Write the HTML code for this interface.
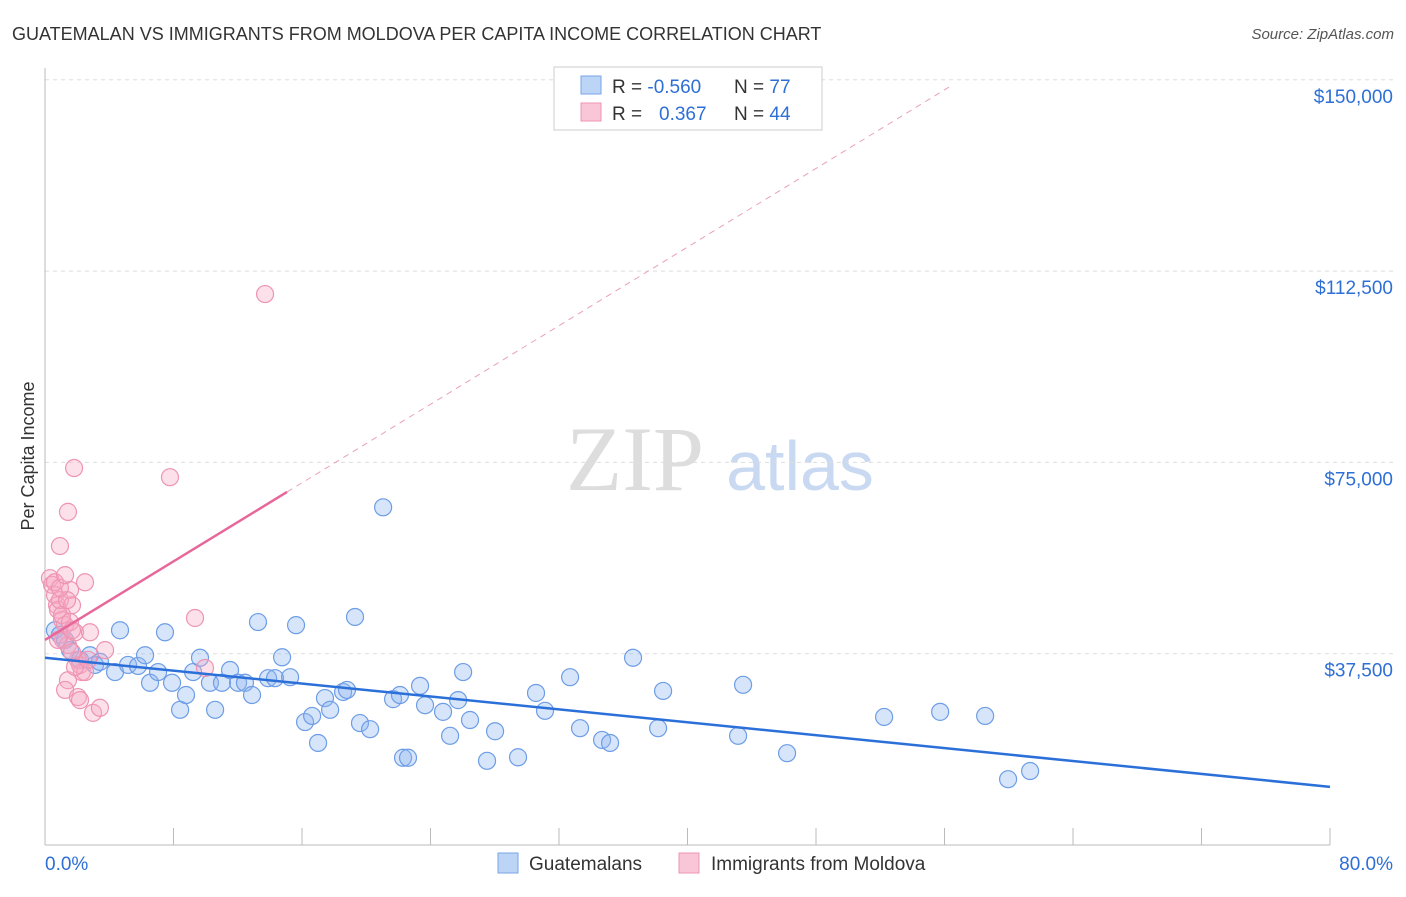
<!DOCTYPE html>
<html><head><meta charset="utf-8"><style>
body{margin:0;background:#fff;font-family:"Liberation Sans",sans-serif}
</style></head><body>
<svg id="c" width="1406" height="892" viewBox="0 0 1406 892" xmlns="http://www.w3.org/2000/svg">
<text x="12" y="40" font-size="18" fill="#333">GUATEMALAN VS IMMIGRANTS FROM MOLDOVA PER CAPITA INCOME CORRELATION CHART</text>
<text x="1394" y="39" font-size="15" fill="#555" text-anchor="end" font-style="italic">Source: ZipAtlas.com</text>
<text x="34" y="456" font-size="18" fill="#333" text-anchor="middle" transform="rotate(-90 34 456)">Per Capita Income</text>
<g>
<text x="635" y="490" font-size="92" fill="#ddd" font-family="Liberation Serif,serif" text-anchor="middle">ZIP</text>
<text x="800" y="490" font-size="70" fill="#c9d9f2" text-anchor="middle">atlas</text>
</g>
<g id="grid"></g><g id="axes"></g><g id="marks"></g>
<g>
<rect x="554" y="67" width="268" height="63" fill="#fff" stroke="#ccc"/>
<rect x="581" y="76" width="20" height="18" fill="#bcd4f5" stroke="#7aa6e8"/>
<rect x="581" y="103" width="20" height="18" fill="#f8c6d6" stroke="#ee94b2"/>
<text x="612" y="93" font-size="19" fill="#333">R = <tspan fill="#2e6fd6">-0.560</tspan></text>
<text x="734" y="93" font-size="19" fill="#333">N = <tspan fill="#2e6fd6">77</tspan></text>
<text x="612" y="120" font-size="19" fill="#333">R = <tspan fill="#2e6fd6" x="659">0.367</tspan></text>
<text x="734" y="120" font-size="19" fill="#333">N = <tspan fill="#2e6fd6">44</tspan></text>
</g>
<g>
<rect x="498" y="853" width="20" height="20" fill="#bcd4f5" stroke="#7aa6e8"/>
<text x="529" y="870" font-size="19" fill="#333">Guatemalans</text>
<rect x="679" y="853" width="20" height="20" fill="#f8c6d6" stroke="#ee94b2"/>
<text x="711" y="870" font-size="19" fill="#333">Immigrants from Moldova</text>
</g>
<text x="45" y="870" font-size="19" fill="#2e6fd6">0.0%</text>
<text x="1393" y="870" font-size="19" fill="#2e6fd6" text-anchor="end">80.0%</text>
</svg>
<script>
const yTicks=[37.5,75,112.5,150];
const yTickLabels=["$37,500","$75,000","$112,500","$150,000"];
const xTicks=[0,8,16,24,32,40,48,56,64,72,80];
const blueX=[0.62,0.93,1.25,1.56,2.18,2.80,3.11,3.42,4.36,4.67,5.17,5.79,6.23,6.54,7.04,7.47,7.91,8.41,8.78,9.22,9.65,10.27,10.59,11.02,11.52,12.02,12.45,12.89,13.26,13.89,14.32,14.76,15.26,15.63,16.19,16.63,17.00,17.43,17.75,18.56,18.80,19.30,19.61,20.24,21.05,21.67,22.10,22.29,22.60,23.35,23.66,24.78,25.22,25.72,26.03,26.46,27.52,28.02,29.45,30.57,31.13,32.69,33.31,34.68,35.18,36.61,38.17,38.48,43.15,43.46,46.20,52.24,55.73,58.53,59.96,61.33];
const blueY=[42.1,41.2,40.2,38.2,36.3,37.2,35.3,35.9,33.9,42.1,35.3,35.1,37.2,31.8,33.9,41.7,31.8,26.5,29.4,33.9,36.7,31.8,26.5,31.8,34.3,31.8,31.8,29.4,43.7,32.7,32.7,36.8,32.9,43.1,24.1,25.3,20.0,28.8,26.5,30.0,30.4,44.7,23.9,22.7,66.2,28.6,29.4,17.1,17.1,31.2,27.4,26.1,21.4,28.4,33.9,24.5,16.5,22.3,17.2,29.8,26.3,32.9,22.9,20.6,20.0,36.7,22.9,30.2,21.4,31.4,18.0,25.1,26.1,25.3,12.9,14.5];
const pinkX=[0.31,0.44,0.62,0.75,0.81,0.93,1.06,1.12,1.25,1.43,1.56,1.68,1.81,1.43,0.93,2.49,1.87,2.05,2.18,2.30,2.49,2.80,1.43,1.25,2.05,2.18,2.99,3.42,3.74,1.68,7.78,9.34,9.96,13.70,0.62,1.06,1.37,1.56,0.81,1.87,2.68,0.93,1.25,1.68];
const pinkY=[52.3,51.0,49.0,47.0,46.1,48.0,44.1,40.2,43.1,39.2,50.0,47.0,73.9,65.3,58.6,51.5,41.7,36.3,35.3,33.9,33.9,41.7,32.3,30.4,29.0,28.4,25.9,26.9,38.2,37.8,72.1,44.5,34.7,108.0,51.5,45.1,48.0,43.7,40.2,34.9,36.3,50.4,52.9,42.1];
const blueTrend=[[0,36.7],[80,11.4]];
const pinkTrendSolid=[[0,40.2],[15.07,69.2]];
const pinkTrendDash=[[15.07,69.2],[56.35,148.7]];
const X=v=>45+v*1285/80, Y=v=>845-v*191.3/37.5;
const NS="http://www.w3.org/2000/svg";
function mk(t,a,p){const e=document.createElementNS(NS,t);for(const k in a)e.setAttribute(k,a[k]);p.appendChild(e);return e;}
const grid=document.getElementById('grid'),axes=document.getElementById('axes'),marks=document.getElementById('marks');
yTicks.forEach((v,i)=>{
 const l=mk('line',{x1:45,x2:1393,y1:Y(v),y2:Y(v),stroke:'#ddd','stroke-dasharray':'4,4'},grid);
 
 
 const t=mk('text',{x:1393,y:Y(v)+23,'font-size':19,fill:'#2e6fd6','text-anchor':'end'},axes);
 t.textContent=yTickLabels[i];
 
 
});
const ax=mk('line',{x1:45,x2:45,y1:68,y2:845,stroke:'#bbb'},axes);


const bx=mk('line',{x1:45,x2:1330,y1:845,y2:845,stroke:'#bbb'},axes);


xTicks.forEach(v=>{
 const t=mk('line',{x1:X(v),x2:X(v),y1:828,y2:845,stroke:'#bbb'},axes);
 
 
});
blueX.forEach((v,i)=>{
 const c=mk('circle',{cx:X(v),cy:Y(blueY[i]),r:8.5,fill:'rgba(140,180,240,0.35)',stroke:'#6d9de6','stroke-width':1.2},marks);
 
 
});
pinkX.forEach((v,i)=>{
 const c=mk('circle',{cx:X(v),cy:Y(pinkY[i]),r:8.5,fill:'rgba(245,170,195,0.35)',stroke:'#ee94b2','stroke-width':1.2},marks);
 
 
});
const bt=mk('line',{x1:X(blueTrend[0][0]),y1:Y(blueTrend[0][1]),x2:X(blueTrend[1][0]),y2:Y(blueTrend[1][1]),stroke:'#2b70d9','stroke-width':2.5},marks);


const ps=mk('line',{x1:X(pinkTrendSolid[0][0]),y1:Y(pinkTrendSolid[0][1]),x2:X(pinkTrendSolid[1][0]),y2:Y(pinkTrendSolid[1][1]),stroke:'#e8679a','stroke-width':2.5},marks);


const pd=mk('line',{x1:X(pinkTrendDash[0][0]),y1:Y(pinkTrendDash[0][1]),x2:X(pinkTrendDash[1][0]),y2:Y(pinkTrendDash[1][1]),stroke:'#eaa0b8','stroke-width':1,'stroke-dasharray':'6,5'},marks);


</script>
</body></html>
